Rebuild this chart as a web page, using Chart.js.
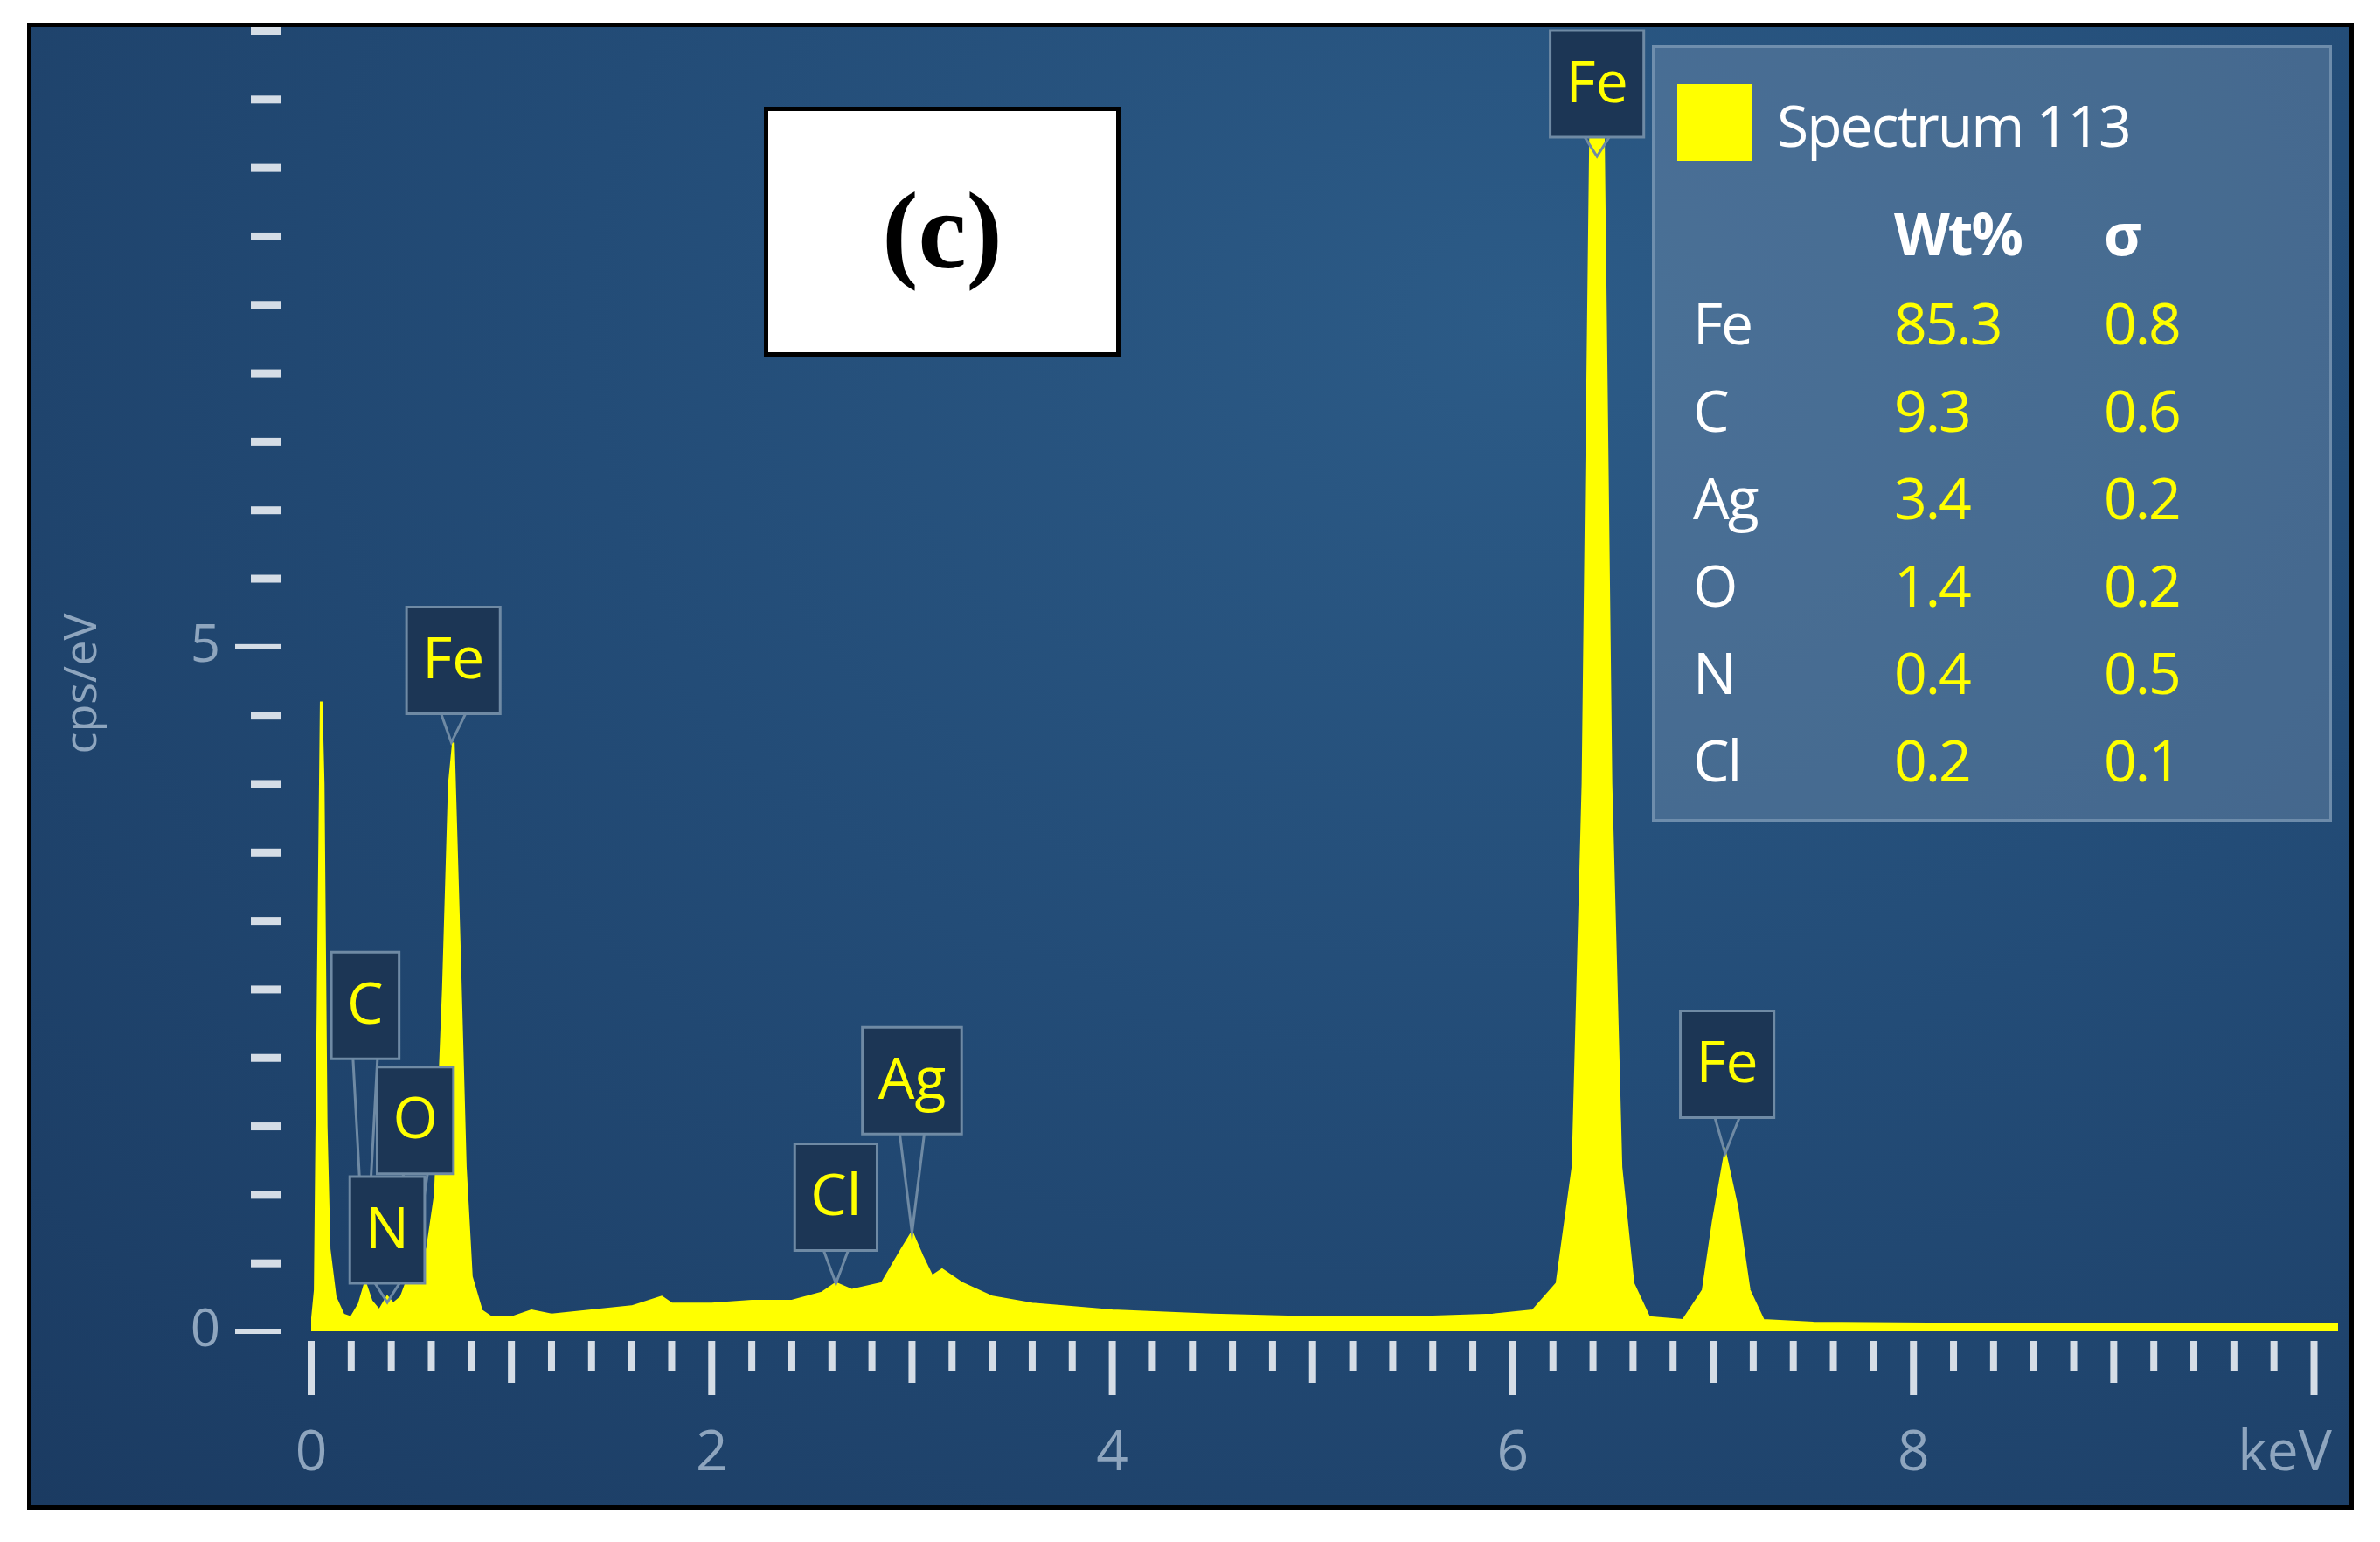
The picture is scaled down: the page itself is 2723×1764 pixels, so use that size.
<!DOCTYPE html>
<html><head><meta charset="utf-8">
<script src="https://cdn.jsdelivr.net/npm/chart.js@4"></script>
<style>
body{margin:0;background:#fff;width:2723px;height:1764px;overflow:hidden;font-family:"Open Sans",sans-serif}
#frame{position:absolute;left:31px;top:26px;width:2652px;height:1691px;border:5px solid #000;
  background:radial-gradient(ellipse at 65% 20%,#2c5b87 0%,#234c77 45%,#1b3b62 100%)}
canvas{position:absolute;left:0;top:0}
#tag{position:absolute;left:874px;top:122px;width:398px;height:276px;background:#fff;border:5px solid #000;
  font:bold 124px "Liberation Serif",serif;display:flex;align-items:center;justify-content:center}
#leg{position:absolute;left:1890px;top:52px;width:772px;height:882px;background:rgba(110,140,170,0.45);
  border:3px solid rgba(150,175,200,0.5);color:#fff}
#leg div{position:absolute;font-size:66px;line-height:1;white-space:nowrap;letter-spacing:-2px}
.sw{width:86px;height:88px;background:#ffff00}
.y{color:#ffff00}
</style></head><body>
<div id="frame"></div>
<canvas id="c" width="2723" height="1764"></canvas>
<div id="tag">(c)</div>
<div id="leg"></div>
<script>
// spectrum (keV, cps/eV)
const energy = [0,0.02,0.035,0.05,0.06,0.075,0.09,0.12,0.16,0.2,0.24,0.27,0.3,0.34,0.38,0.41,0.45,0.5,0.53,0.58,0.62,0.66,0.69,0.71,0.74,0.77,0.8,0.85,0.9,1.0,1.1,1.2,1.4,1.6,1.75,1.8,2.0,2.2,2.4,2.55,2.62,2.7,2.85,2.95,3.0,3.05,3.1,3.15,3.25,3.4,3.6,4.0,4.5,5.0,5.5,5.9,6.1,6.22,6.3,6.35,6.39,6.42,6.45,6.49,6.54,6.6,6.68,6.85,6.95,7.0,7.06,7.12,7.18,7.25,7.5,8.5,10.15];
const counts = [0,0.3,2.5,4.6,4.0,1.5,0.6,0.25,0.12,0.1,0.2,0.35,0.22,0.15,0.25,0.2,0.25,0.45,0.55,0.6,1.0,2.5,4.0,4.3,2.8,1.2,0.4,0.15,0.1,0.1,0.15,0.12,0.15,0.18,0.25,0.2,0.2,0.22,0.22,0.28,0.35,0.3,0.35,0.6,0.72,0.55,0.4,0.45,0.35,0.25,0.2,0.15,0.12,0.1,0.1,0.12,0.15,0.35,1.2,4,9,12,9,4,1.2,0.35,0.1,0.08,0.3,0.8,1.3,0.9,0.3,0.08,0.06,0.05,0.05];
// peak labels
const peakNames = ['Fe','C','O','N','Cl','Ag','Fe','Fe'];
const peakBoxX = [0.71,0.27,0.52,0.38,2.62,3.0,6.42,7.07];
const peakBoxTop = [5.29,2.77,1.93,1.13,1.37,2.22,9.5,2.34];
const peakTipX = [0.70,0.27,0.52,0.38,2.62,3.0,6.42,7.06];
const peakTipY = [4.3,0.35,0.55,0.25,0.35,0.72,9.5,1.3];
// legend table
const legElements = ['Fe','C','Ag','O','N','Cl'];
const legWt = ['85.3','9.3','3.4','1.4','0.4','0.2'];
const legSigma = ['0.8','0.6','0.2','0.2','0.5','0.1'];
const xLabels = [0,2,4,6,8];
const yLabels = [0,5];

const leg = document.getElementById('leg');
let h = '<div class="sw" style="left:26px;top:41px"></div><div style="left:140px;top:54px">Spectrum 113</div>'+
  '<div style="left:274px;top:178px;font-weight:bold">Wt%</div><div style="left:514px;top:178px;font-weight:bold">σ</div>';
legElements.forEach((e,i)=>{const t=280+i*100;
  h+=`<div style="left:44px;top:${t}px">${e}</div><div class="y" style="left:274px;top:${t}px">${legWt[i]}</div><div class="y" style="left:514px;top:${t}px">${legSigma[i]}</div>`;});
leg.innerHTML = h;

const deco = { id:'deco', afterDatasetsDraw(ch){
  const c=ch.ctx, xs=ch.scales.x, ys=ch.scales.y;
  c.save();
  // y ticks
  for(let v=0; v<=9.5001; v+=0.5){
    const p=ys.getPixelForValue(v);
    c.fillStyle='#d5dde6';
    if(Math.abs(v%5)<1e-6){ c.fillRect(269,p-3,52,6); } else c.fillRect(287,p-4,34,9);
  }
  c.fillStyle='#8ea5be'; c.font='60px "Open Sans"'; c.textAlign='right'; c.textBaseline='middle';
  yLabels.forEach(v=>c.fillText(String(v),252,ys.getPixelForValue(v)));
  c.save(); c.translate(95,782); c.rotate(-Math.PI/2); c.textAlign='center'; c.font='52px "Open Sans"';
  c.fillText('cps/eV',0,0); c.restore();
  // x ticks
  for(let i=0;i<=50;i++){
    const v=i*0.2, p=xs.getPixelForValue(v);
    const len = i%10===0?62:(i%5===0?48:34);
    c.fillStyle='#d5dde6'; c.fillRect(p-4,1534,8,len);
  }
  c.fillStyle='#8ea5be'; c.textAlign='center'; c.font='64px "Open Sans"';
  xLabels.forEach(v=>c.fillText(String(v),xs.getPixelForValue(v),1664));
  c.fillText('keV',2614,1664);
  // peak labels
  c.font='66px "Open Sans"';
  peakNames.forEach((n,i)=>{
    const cx=xs.getPixelForValue(peakBoxX[i]), top=ys.getPixelForValue(peakBoxTop[i]);
    const w=c.measureText(n).width+36, hh=122, bot=top+hh;
    const tx=xs.getPixelForValue(peakTipX[i]), ty=ys.getPixelForValue(peakTipY[i]);
    c.strokeStyle='#6f8aa4'; c.lineWidth=3;
    c.beginPath(); c.moveTo(cx-14,bot); c.lineTo(tx,Math.max(ty,bot+22)); c.lineTo(cx+14,bot); c.stroke();
    c.fillStyle='#1c3655'; c.beginPath(); c.rect(cx-w/2,top,w,hh); c.fill(); c.stroke();
    c.fillStyle='#ffff00'; c.textBaseline='middle'; c.fillText(n,cx,top+hh/2+2);
  });
  c.restore();
}};

new Chart(document.getElementById('c'),{
  type:'line',
  data:{datasets:[{data:energy.map((e,i)=>({x:e,y:counts[i]})),borderColor:'#ffff00',backgroundColor:'#ffff00',
    fill:'origin',borderWidth:3,pointRadius:0,tension:0}]},
  options:{responsive:false,animation:false,
    layout:{padding:{left:0,top:35,right:48,bottom:0}},
    plugins:{legend:{display:false},tooltip:{enabled:false}},
    scales:{
      x:{type:'linear',min:0,max:10.12,grid:{display:false},border:{display:false},ticks:{display:false},
         afterFit:s=>{s.height=241;}},
      y:{min:0,max:9.5,grid:{display:false},border:{display:false},ticks:{display:false},
         afterFit:s=>{s.width=356;}}
    }},
  plugins:[deco]
});
</script></body></html>
